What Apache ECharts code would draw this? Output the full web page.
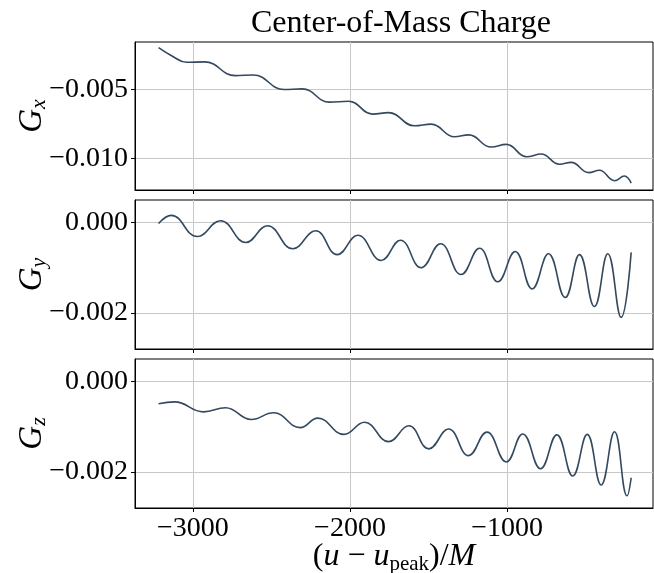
<!DOCTYPE html>
<html>
<head>
<meta charset="utf-8">
<script src="https://cdn.jsdelivr.net/npm/echarts@6/dist/echarts.min.js"></script>
<style>
  html, body { margin: 0; padding: 0; background: #fff; }
  #main { width: 654px; height: 573px; }
</style>
</head>
<body>
<div id="main"></div>
<script>
// [u - u_peak, value] (peaks / troughs / plateau ends)
let gxData = [
    [-3218, -0.00201], [-3130, -0.00262], [-3040, -0.00306], [-2925, -0.00303],
    [-2730, -0.00402], [-2615, -0.00397], [-2420, -0.00502], [-2305, -0.00497],
    [-2130, -0.00593], [-2010, -0.00586], [-1855, -0.00679], [-1755, -0.00668],
    [-1590, -0.00763], [-1483, -0.00751], [-1335, -0.00842], [-1244, -0.00828],
    [-1102, -0.00916], [-1006, -0.00897], [-875, -0.00986], [-784, -0.00966],
    [-667, -0.0104], [-593, -0.01026], [-481, -0.011], [-413, -0.01083],
    [-317, -0.01158], [-254, -0.01124], [-211, -0.01176]
];
let gyData = [
    [-3218, -0.00002], [-3137, 0.00016], [-2972, -0.00031], [-2824, 0.00004],
    [-2663, -0.00044], [-2525, -0.00007], [-2364, -0.00058], [-2219, -0.00018],
    [-2081, -0.00071], [-1950, -0.00028], [-1802, -0.00084], [-1679, -0.00039],
    [-1547, -0.0010], [-1424, -0.00047], [-1293, -0.00115], [-1176, -0.00057],
    [-1060, -0.00131], [-949, -0.00064], [-841, -0.00147], [-737, -0.00069],
    [-631, -0.00166], [-540, -0.00071], [-445, -0.00186], [-360, -0.00069],
    [-275, -0.0021], [-211, -0.00066]
];
let gzData = [
    [-3218, -0.00049], [-3116, -0.00045], [-2932, -0.00067], [-2792, -0.00058],
    [-2628, -0.00084], [-2487, -0.00069], [-2317, -0.00102], [-2205, -0.00081],
    [-2039, -0.00117], [-1908, -0.0009], [-1755, -0.00133], [-1626, -0.00098],
    [-1499, -0.00149], [-1373, -0.00105], [-1246, -0.00164], [-1129, -0.00112],
    [-1006, -0.00178], [-901, -0.00116], [-788, -0.00193], [-684, -0.00118],
    [-583, -0.00209], [-491, -0.00117], [-402, -0.00229], [-317, -0.00111],
    [-237, -0.00253], [-211, -0.00213]
];
let xTicks = [-3000, -2000, -1000];
let gxTicks = [-0.010, -0.005];
let gyzTicks = [-0.002, 0.000];

let serif = 'Liberation Serif';
let lineColor = '#34495e';
let gridColor = '#c8c8c8';

function fmtY(v) {
    let s = Math.abs(v).toFixed(3);
    return (v < -1e-12 ? '\u2212' : '') + s;
}
function fmtX(v) {
    return (v < 0 ? '\u2212' : '') + Math.abs(v);
}

let grids = [
    { left: 135, right: 1, top: 42, height: 148 },
    { left: 135, right: 1, top: 200, height: 149 },
    { left: 135, right: 1, top: 359, height: 149 }
].map(g => Object.assign(g, {
    show: true, borderColor: '#000', borderWidth: 1, backgroundColor: 'transparent',
    containLabel: false, outerBoundsMode: 'none'
}));

function makeX(i) {
    let last = i === 2;
    return {
        type: 'value',
        gridIndex: i,
        min: -3368,
        max: -72,
        axisLine: { show: true, onZero: false, lineStyle: { color: '#000', width: 1 } },
        axisTick: { show: true, customValues: xTicks, length: 4, lineStyle: { color: '#000' } },
        axisLabel: {
            show: last,
            customValues: xTicks,
            formatter: fmtX,
            color: '#000',
            fontFamily: serif,
            fontSize: 28,
            margin: 7
        },
        splitLine: { show: true, lineStyle: { color: gridColor, width: 1 } },
        name: last ? '{p|(}{i|u}{p| \u2212 }{i|u}{s|peak}{p|)/}{i|M}' : '',
        nameLocation: 'middle',
        nameMoveOverlap: false,
        nameGap: 31,
        nameTextStyle: {
            rich: {
                p: { fontFamily: serif, fontSize: 32, color: '#000' },
                i: { fontFamily: serif, fontSize: 32, fontStyle: 'italic', color: '#000' },
                s: { fontFamily: serif, fontSize: 21, color: '#000', verticalAlign: 'bottom', padding: [15, 0, 0, 0] }
            }
        }
    };
}

function makeY(i, min, max, ticks, sub) {
    return {
        type: 'value',
        gridIndex: i,
        min: min,
        max: max,
        axisLine: { show: true, onZero: false, lineStyle: { color: '#000', width: 1 } },
        axisTick: { show: true, customValues: ticks, length: 4, lineStyle: { color: '#000' } },
        axisLabel: {
            customValues: ticks,
            formatter: fmtY,
            color: '#000',
            fontFamily: serif,
            fontSize: 28,
            margin: 7
        },
        splitLine: { show: true, lineStyle: { color: gridColor, width: 1 } },
        name: '{g|G}{s|' + sub + '}',
        nameLocation: 'middle',
        nameRotate: 90,
        nameMoveOverlap: false,
        nameGap: 85,
        nameTextStyle: {
            rich: {
                g: { fontFamily: serif, fontSize: 33, fontStyle: 'italic', color: '#000' },
                s: { fontFamily: serif, fontSize: 22, fontStyle: 'italic', color: '#000', verticalAlign: 'bottom', padding: [14, 0, 0, 0] }
            }
        }
    };
}

function makeSeries(i, data) {
    return {
        type: 'line',
        xAxisIndex: i,
        yAxisIndex: i,
        data: data,
        smooth: 0.45,
        showSymbol: false,
        lineStyle: { color: lineColor, width: 1.6 },
        animation: false
    };
}

let myChart = echarts.init(document.getElementById('main'), null, { renderer: 'canvas' });
let option = {
    backgroundColor: '#fff',
    animation: false,
    title: {
        text: 'Center-of-Mass Charge',
        left: 396,
        textAlign: 'center',
        top: 3,
        textStyle: { fontFamily: serif, fontSize: 32, fontWeight: 'normal', color: '#000' }
    },
    grid: grids,
    xAxis: [makeX(0), makeX(1), makeX(2)],
    yAxis: [
        makeY(0, -0.01225, -0.0016, gxTicks, 'x'),
        makeY(1, -0.0028, 0.0005, gyzTicks, 'y'),
        makeY(2, -0.0028, 0.0005, gyzTicks, 'z')
    ],
    series: [makeSeries(0, gxData), makeSeries(1, gyData), makeSeries(2, gzData)]
};
myChart.setOption(option);
</script>
</body>
</html>
